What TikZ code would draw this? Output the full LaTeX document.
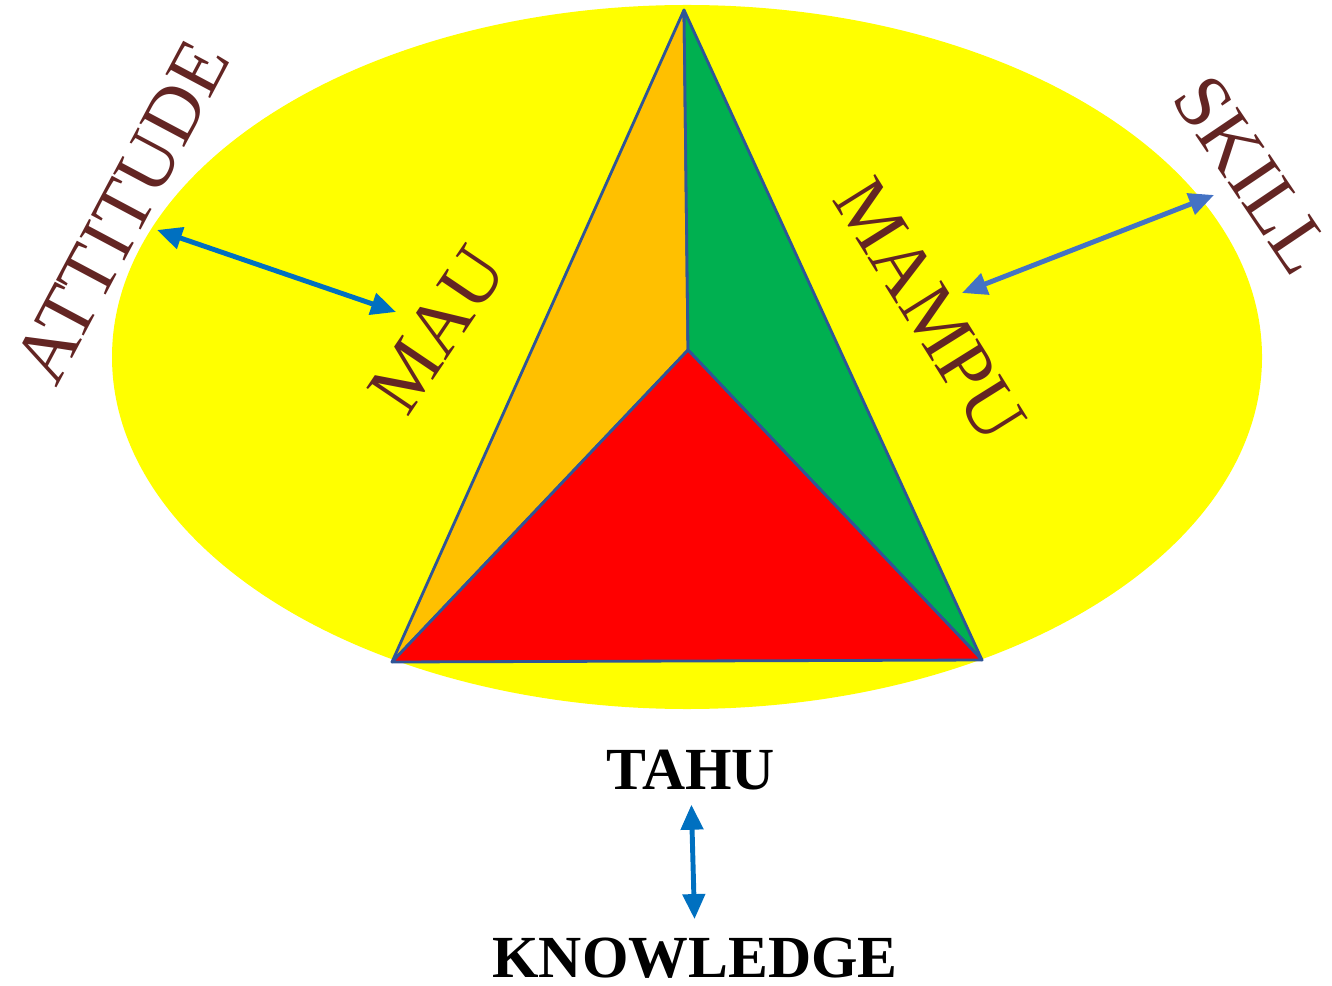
\documentclass[tikz,border=0pt]{standalone}
\usepackage{fontspec}
\setmainfont{Liberation Serif}
\usepackage{tikz}
\usetikzlibrary{arrows.meta,positioning}
\usepackage{xcolor}
\definecolor{sunyellow}{HTML}{FFFF00}
\definecolor{facered}{HTML}{FF0000}
\definecolor{faceorange}{HTML}{FFC000}
\definecolor{facegreen}{HTML}{00B050}
\definecolor{edgeblue}{HTML}{2F5597}
\definecolor{wordbrown}{HTML}{632523}
\definecolor{linkblue}{HTML}{0070C0}
\definecolor{linkpale}{HTML}{4472C4}

\tikzset{
  face/.style={draw=edgeblue, line width=0.8pt, line join=round},
  word/.style={text=wordbrown, font=\fontsize{22}{26}\selectfont, inner sep=0pt},
  keyword/.style={text=black, font=\fontsize{17}{20}\selectfont\bfseries, inner sep=0pt},
  link/.style={{Triangle[length=0.25cm,width=0.22cm]}-{Triangle[length=0.25cm,width=0.22cm]}, line width=1.4pt}
}

\begin{document}
\begin{tikzpicture}
    \useasboundingbox (0,0) rectangle (13.32,-9.85);
    \fill[sunyellow] (6.87,-3.57) ellipse [x radius=5.75, y radius=3.52];

    \coordinate (apex) at (6.84,-0.10);
    \coordinate (left) at (3.92,-6.62);
    \coordinate (right) at (9.82,-6.60);
    \coordinate (inner) at (6.88,-3.50);

    \draw[face, fill=faceorange] (apex) -- (left) -- (inner) -- cycle;
    \draw[face, fill=facegreen] (apex) -- (inner) -- (right) -- cycle;
    \draw[face, fill=facered] (left) -- (inner) -- (right) -- cycle;

    \node[word, rotate=62] (attitude) at (1.22,-2.12) {ATTITUDE};
    \node[word, rotate=56] (mau) at (4.37,-3.30) {MAU};
    \node[word, rotate=-58] (mampu) at (9.30,-3.10) {MAMPU};
    \node[word, rotate=-56] (skill) at (12.53,-1.75) {SKILL};

    \node[keyword] (tahu) at (6.91,-7.70) {TAHU};
    \node[keyword] (knowledge) at (6.95,-9.58) {KNOWLEDGE};

    \coordinate (attitude-end) at (1.57,-2.30);
    \coordinate (mau-end) at (3.96,-3.12);
    \coordinate (skill-end) at (12.14,-1.95);
    \coordinate (mampu-end) at (9.62,-2.93);

    \draw[link, linkblue] (attitude-end) -- (mau-end);
    \draw[link, linkpale] (skill-end) -- (mampu-end);
    \draw[link, linkblue, shorten <=0.14cm, shorten >=0.18cm] (tahu.south) -- (knowledge.north);
\end{tikzpicture}
\end{document}
